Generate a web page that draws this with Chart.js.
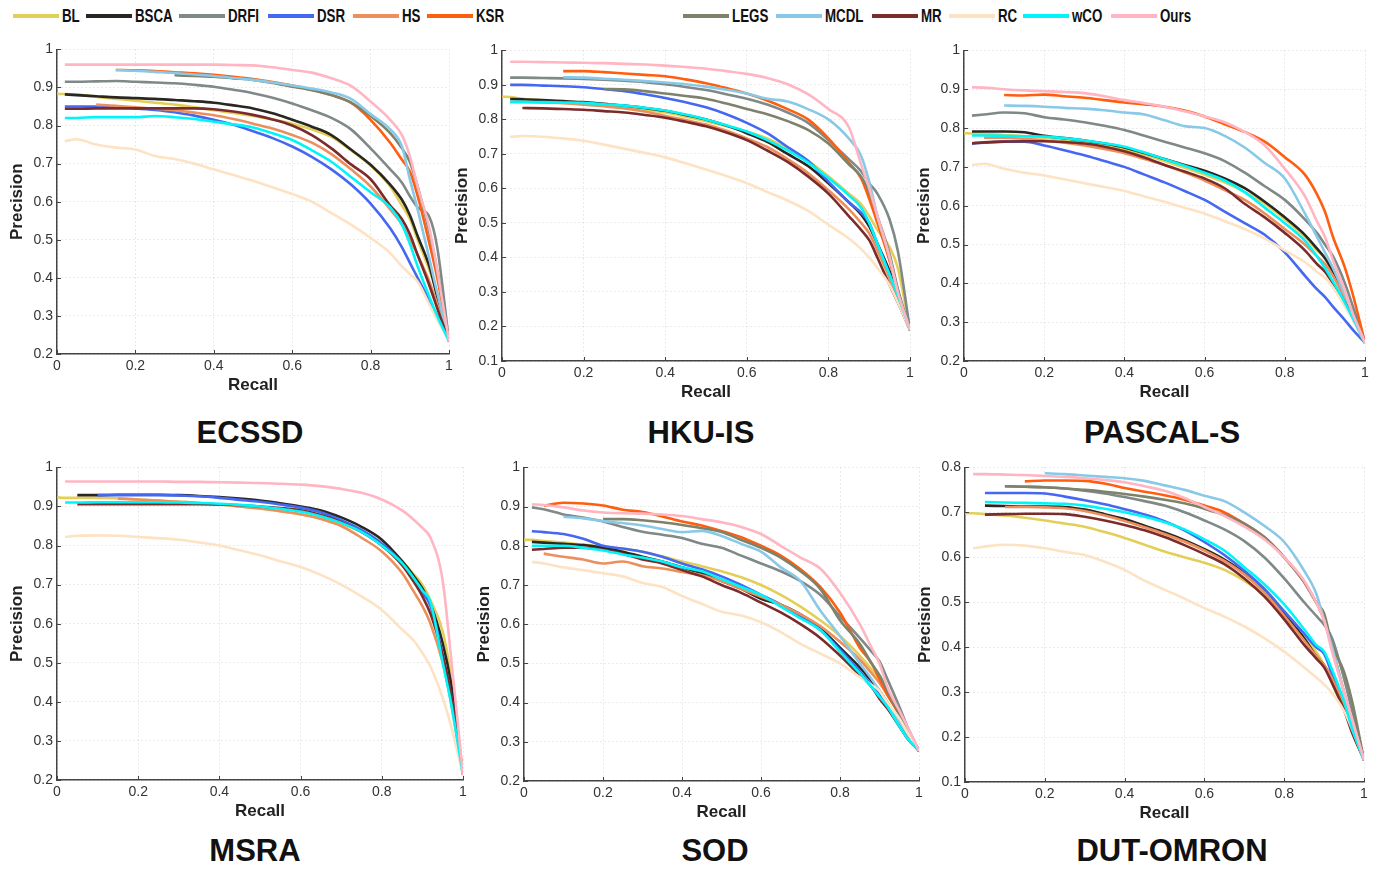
<!DOCTYPE html>
<html>
<head>
<meta charset="utf-8">
<title>PR curves</title>
<script src="https://cdn.jsdelivr.net/npm/chart.js@4.4.1/dist/chart.umd.min.js"></script>
<style>
  body { margin: 0; background: #fff; width: 1377px; height: 871px; position: relative; overflow: hidden;
         font-family: "Liberation Sans", Arial, sans-serif; }
  .box { position: absolute; }
  .legline { position: absolute; height: 4px; top: 14px; }
  .legtext { position: absolute; top: 6px; font: bold 18px "Liberation Sans", Arial, sans-serif;
             line-height: 20px; color: #111; transform: scaleX(0.74); transform-origin: 0 50%; white-space: nowrap; }
  .title { position: absolute; font: bold 31px "Liberation Sans", Arial, sans-serif; color: #111;
           transform: translate(-50%, -50%); white-space: nowrap; }
</style>
</head>
<body>
<div id="legend"></div>
<script>
// methods, in legend order
const methods = ['BL', 'BSCA', 'DRFI', 'DSR', 'HS', 'KSR', 'LEGS', 'MCDL', 'MR', 'RC', 'wCO', 'Ours'];

// recall sampling points shared by all curves
const recall = [0, 0.02, 0.05, 0.1, 0.15, 0.2, 0.25, 0.3, 0.35, 0.4, 0.45, 0.5, 0.55, 0.6, 0.65, 0.7, 0.75, 0.8, 0.85, 0.88, 0.9, 0.92, 0.95, 0.97, 1];

// precision per method (same order as methods), null = curve not drawn there
const ecssdPrecision = [
  [0.883,0.883,0.882,0.875,0.870,0.865,0.860,0.855,0.848,0.840,0.833,0.825,0.816,0.805,0.790,0.770,0.735,0.695,0.640,0.590,0.555,0.500,0.420,0.360,0.234],
  [null,0.882,0.880,0.877,0.874,0.872,0.870,0.867,0.864,0.860,0.853,0.845,0.832,0.815,0.797,0.775,0.737,0.697,0.645,0.605,0.565,0.510,0.430,0.350,0.234],
  [null,0.915,0.915,0.916,0.917,0.915,0.913,0.911,0.907,0.902,0.894,0.885,0.873,0.858,0.840,0.820,0.790,0.740,0.685,0.650,0.615,0.585,0.560,0.480,0.234],
  [null,0.850,0.850,0.850,0.848,0.845,0.841,0.835,0.826,0.815,0.802,0.785,0.767,0.745,0.718,0.685,0.645,0.595,0.530,0.480,0.440,0.400,0.340,0.300,0.234],
  [null,null,null,0.855,0.852,0.848,0.844,0.840,0.834,0.827,0.817,0.805,0.792,0.775,0.755,0.725,0.685,0.640,0.580,0.540,0.500,0.460,0.390,0.330,0.234],
  [null,null,null,null,0.946,0.945,0.943,0.940,0.937,0.933,0.928,0.922,0.914,0.905,0.894,0.880,0.860,0.815,0.755,0.710,0.680,0.615,0.490,0.400,0.234],
  [null,null,null,null,null,null,null,0.932,0.930,0.928,0.924,0.920,0.912,0.902,0.893,0.880,0.860,0.825,0.780,0.740,0.705,0.640,0.520,0.420,0.234],
  [null,null,null,null,0.946,0.944,0.941,0.938,0.934,0.930,0.925,0.920,0.913,0.905,0.897,0.887,0.870,0.830,0.790,0.745,0.660,0.580,0.450,0.360,0.234],
  [null,0.844,0.844,0.845,0.845,0.845,0.845,0.845,0.845,0.843,0.837,0.828,0.816,0.800,0.775,0.740,0.698,0.659,0.590,0.554,0.515,0.460,0.380,0.320,0.234],
  [null,0.759,0.764,0.750,0.742,0.737,0.720,0.712,0.700,0.685,0.670,0.655,0.638,0.620,0.600,0.570,0.540,0.505,0.465,0.430,0.410,0.390,0.330,0.290,0.234],
  [null,0.820,0.820,0.822,0.822,0.822,0.825,0.822,0.817,0.810,0.803,0.795,0.780,0.762,0.735,0.705,0.665,0.625,0.585,0.540,0.490,0.430,0.350,0.300,0.234],
  [null,0.960,0.960,0.960,0.960,0.960,0.960,0.960,0.960,0.960,0.959,0.958,0.953,0.946,0.939,0.924,0.904,0.863,0.815,0.775,0.720,0.640,0.530,0.420,0.234]
];

const hkuisPrecision = [
  [0.866,0.865,0.860,0.855,0.850,0.845,0.840,0.835,0.828,0.820,0.808,0.795,0.780,0.765,0.745,0.715,0.680,0.635,0.585,0.555,0.520,0.480,0.430,0.370,0.19],
  [null,0.859,0.858,0.856,0.853,0.850,0.845,0.840,0.833,0.825,0.813,0.800,0.782,0.760,0.735,0.700,0.665,0.615,0.560,0.525,0.490,0.440,0.360,0.290,0.19],
  [null,0.921,0.921,0.920,0.919,0.917,0.915,0.912,0.908,0.902,0.894,0.885,0.873,0.860,0.843,0.820,0.790,0.740,0.685,0.650,0.615,0.585,0.510,0.420,0.19],
  [null,0.900,0.900,0.898,0.896,0.893,0.888,0.882,0.873,0.862,0.850,0.835,0.815,0.790,0.760,0.720,0.680,0.620,0.560,0.530,0.500,0.440,0.350,0.290,0.19],
  [null,0.850,0.850,0.849,0.847,0.843,0.838,0.832,0.823,0.810,0.798,0.785,0.767,0.745,0.720,0.685,0.645,0.595,0.540,0.500,0.470,0.420,0.340,0.280,0.19],
  [null,null,null,null,0.940,0.940,0.937,0.933,0.929,0.925,0.916,0.905,0.891,0.875,0.855,0.830,0.800,0.745,0.675,0.630,0.570,0.500,0.390,0.300,0.19],
  [null,null,null,null,null,null,0.888,0.887,0.882,0.875,0.868,0.860,0.846,0.830,0.815,0.795,0.770,0.730,0.670,0.635,0.590,0.520,0.410,0.310,0.19],
  [null,null,null,null,0.922,0.921,0.918,0.915,0.911,0.907,0.902,0.895,0.886,0.875,0.860,0.852,0.830,0.800,0.745,0.695,0.620,0.520,0.400,0.300,0.19],
  [null,null,0.833,0.832,0.830,0.828,0.824,0.820,0.813,0.805,0.793,0.780,0.762,0.740,0.710,0.677,0.635,0.585,0.520,0.480,0.450,0.400,0.320,0.270,0.19],
  [null,0.749,0.752,0.750,0.745,0.738,0.727,0.715,0.703,0.690,0.673,0.655,0.636,0.615,0.590,0.565,0.535,0.495,0.455,0.425,0.400,0.370,0.320,0.270,0.19],
  [null,0.851,0.851,0.850,0.849,0.848,0.844,0.840,0.834,0.826,0.814,0.800,0.783,0.765,0.740,0.710,0.675,0.630,0.580,0.545,0.500,0.440,0.350,0.290,0.19],
  [null,0.967,0.967,0.966,0.965,0.964,0.963,0.961,0.959,0.956,0.952,0.947,0.940,0.932,0.920,0.902,0.873,0.830,0.778,0.670,0.600,0.520,0.400,0.300,0.19]
];

const pascalPrecision = [
  [0.787,0.786,0.785,0.782,0.779,0.775,0.769,0.762,0.754,0.745,0.731,0.715,0.698,0.680,0.660,0.635,0.605,0.565,0.520,0.485,0.465,0.430,0.370,0.320,0.247],
  [null,0.791,0.791,0.791,0.789,0.780,0.774,0.768,0.760,0.750,0.736,0.720,0.705,0.690,0.670,0.645,0.610,0.570,0.525,0.490,0.465,0.430,0.370,0.320,0.247],
  [null,0.832,0.835,0.840,0.838,0.828,0.822,0.815,0.806,0.795,0.780,0.765,0.750,0.735,0.715,0.685,0.650,0.615,0.565,0.530,0.500,0.470,0.400,0.340,0.247],
  [null,0.760,0.762,0.765,0.765,0.755,0.743,0.730,0.715,0.700,0.680,0.660,0.638,0.615,0.585,0.555,0.525,0.480,0.420,0.385,0.365,0.340,0.305,0.280,0.247],
  [null,null,0.775,0.775,0.772,0.768,0.762,0.755,0.746,0.735,0.720,0.705,0.686,0.665,0.640,0.615,0.580,0.540,0.500,0.470,0.450,0.420,0.360,0.310,0.247],
  [null,null,null,0.885,0.884,0.886,0.882,0.878,0.872,0.866,0.861,0.855,0.845,0.830,0.810,0.790,0.765,0.725,0.680,0.630,0.585,0.520,0.440,0.370,0.247],
  [null,null,null,null,null,null,null,null,null,null,null,null,null,null,null,null,null,null,null,null,null,null,null,null,null],
  [null,null,null,0.858,0.857,0.855,0.852,0.850,0.846,0.840,0.835,0.820,0.805,0.800,0.780,0.750,0.710,0.670,0.580,0.520,0.480,0.440,0.370,0.320,0.247],
  [null,0.761,0.763,0.765,0.766,0.766,0.764,0.760,0.752,0.740,0.724,0.705,0.688,0.670,0.645,0.605,0.570,0.530,0.485,0.450,0.430,0.400,0.350,0.310,0.247],
  [null,0.705,0.708,0.695,0.685,0.678,0.668,0.658,0.648,0.638,0.624,0.610,0.595,0.580,0.560,0.540,0.515,0.485,0.455,0.430,0.415,0.390,0.340,0.305,0.247],
  [null,0.781,0.781,0.780,0.779,0.778,0.774,0.768,0.761,0.752,0.737,0.720,0.703,0.685,0.665,0.635,0.595,0.555,0.510,0.470,0.440,0.405,0.350,0.310,0.247],
  [null,0.905,0.904,0.900,0.897,0.895,0.893,0.890,0.882,0.872,0.864,0.855,0.843,0.830,0.815,0.790,0.755,0.695,0.625,0.560,0.520,0.460,0.380,0.320,0.247]
];

const msraPrecision = [
  [0.923,0.922,0.922,0.922,0.921,0.918,0.915,0.912,0.909,0.905,0.900,0.895,0.888,0.880,0.870,0.855,0.835,0.805,0.760,0.725,0.700,0.660,0.580,0.470,0.213],
  [null,null,0.929,0.929,0.930,0.930,0.930,0.929,0.927,0.924,0.920,0.915,0.908,0.900,0.890,0.872,0.848,0.815,0.760,0.720,0.690,0.650,0.550,0.450,0.213],
  [null,null,null,null,null,null,null,null,null,null,null,null,null,null,null,null,null,null,null,null,null,null,null,null,null],
  [null,null,null,0.929,0.929,0.929,0.929,0.928,0.926,0.922,0.917,0.912,0.905,0.897,0.885,0.865,0.840,0.805,0.755,0.710,0.680,0.645,0.520,0.420,0.213],
  [null,null,null,null,0.920,0.918,0.915,0.912,0.909,0.905,0.900,0.895,0.888,0.880,0.868,0.850,0.820,0.785,0.730,0.680,0.645,0.600,0.500,0.400,0.213],
  [null,null,null,null,null,null,null,null,null,null,null,null,null,null,null,null,null,null,null,null,null,null,null,null,null],
  [null,null,null,null,null,null,null,null,null,null,null,null,null,null,null,null,null,null,null,null,null,null,null,null,null],
  [null,null,null,null,null,null,null,null,null,null,null,null,null,null,null,null,null,null,null,null,null,null,null,null,null],
  [null,null,0.906,0.906,0.906,0.906,0.906,0.906,0.906,0.905,0.903,0.900,0.896,0.890,0.878,0.860,0.835,0.800,0.750,0.705,0.670,0.625,0.520,0.420,0.213],
  [null,0.822,0.825,0.826,0.825,0.822,0.819,0.815,0.808,0.800,0.788,0.775,0.760,0.745,0.725,0.700,0.670,0.635,0.585,0.555,0.525,0.490,0.410,0.340,0.213],
  [null,0.910,0.910,0.911,0.911,0.911,0.911,0.910,0.909,0.907,0.904,0.900,0.894,0.887,0.875,0.858,0.835,0.800,0.755,0.715,0.685,0.655,0.500,0.400,0.213],
  [null,0.964,0.964,0.964,0.964,0.964,0.964,0.963,0.963,0.962,0.961,0.960,0.958,0.956,0.952,0.945,0.935,0.918,0.890,0.865,0.845,0.820,0.710,0.520,0.213]
];

const sodPrecision = [
  [0.815,0.815,0.812,0.808,0.803,0.798,0.792,0.785,0.773,0.760,0.748,0.735,0.720,0.700,0.675,0.645,0.610,0.570,0.520,0.485,0.460,0.430,0.370,0.330,0.277],
  [null,0.810,0.808,0.805,0.802,0.795,0.785,0.772,0.760,0.745,0.730,0.710,0.690,0.665,0.650,0.625,0.590,0.540,0.490,0.455,0.430,0.400,0.350,0.315,0.277],
  [null,0.898,0.893,0.880,0.872,0.862,0.848,0.836,0.828,0.820,0.805,0.795,0.775,0.755,0.735,0.710,0.675,0.620,0.565,0.530,0.505,0.460,0.390,0.340,0.277],
  [null,0.837,0.835,0.830,0.818,0.800,0.793,0.785,0.772,0.755,0.740,0.722,0.700,0.675,0.650,0.620,0.585,0.535,0.480,0.445,0.420,0.390,0.340,0.310,0.277],
  [null,null,0.780,0.772,0.765,0.755,0.760,0.748,0.742,0.733,0.725,0.710,0.690,0.670,0.650,0.625,0.595,0.555,0.510,0.475,0.450,0.420,0.370,0.330,0.277],
  [null,null,0.902,0.910,0.908,0.903,0.892,0.886,0.875,0.862,0.852,0.838,0.822,0.800,0.775,0.740,0.695,0.630,0.540,0.500,0.460,0.420,0.370,0.330,0.277],
  [null,null,null,null,null,0.868,0.868,0.865,0.860,0.853,0.845,0.835,0.815,0.795,0.770,0.735,0.690,0.610,0.550,0.500,0.470,0.430,0.370,0.330,0.277],
  [null,null,null,0.874,0.870,0.863,0.858,0.852,0.843,0.835,0.838,0.825,0.805,0.785,0.745,0.710,0.635,0.570,0.500,0.460,0.430,0.400,0.350,0.320,0.277],
  [null,0.790,0.792,0.795,0.795,0.790,0.780,0.765,0.755,0.738,0.722,0.700,0.680,0.655,0.630,0.600,0.565,0.520,0.470,0.440,0.410,0.385,0.340,0.310,0.277],
  [null,0.759,0.755,0.745,0.738,0.730,0.722,0.705,0.695,0.672,0.652,0.632,0.622,0.605,0.580,0.550,0.525,0.500,0.465,0.445,0.430,0.400,0.360,0.325,0.277],
  [null,0.800,0.800,0.800,0.795,0.788,0.778,0.770,0.760,0.745,0.735,0.715,0.695,0.675,0.645,0.615,0.585,0.530,0.475,0.440,0.415,0.390,0.340,0.310,0.277],
  [null,0.906,0.904,0.898,0.890,0.885,0.883,0.882,0.880,0.876,0.868,0.860,0.848,0.830,0.800,0.770,0.742,0.680,0.600,0.540,0.500,0.440,0.380,0.340,0.277]
];

const dutPrecision = [
  [0.698,0.698,0.696,0.693,0.688,0.682,0.675,0.668,0.656,0.643,0.628,0.613,0.600,0.588,0.572,0.548,0.515,0.470,0.420,0.390,0.360,0.320,0.260,0.220,0.149],
  [null,null,0.715,0.714,0.713,0.713,0.712,0.706,0.696,0.685,0.670,0.655,0.638,0.618,0.595,0.565,0.525,0.473,0.420,0.380,0.360,0.330,0.270,0.220,0.149],
  [null,null,null,0.758,0.757,0.756,0.753,0.748,0.742,0.734,0.725,0.715,0.700,0.682,0.662,0.636,0.600,0.553,0.500,0.470,0.450,0.420,0.330,0.260,0.149],
  [null,null,0.743,0.743,0.743,0.742,0.735,0.727,0.718,0.707,0.695,0.680,0.660,0.634,0.605,0.570,0.530,0.480,0.430,0.400,0.385,0.340,0.270,0.220,0.149],
  [null,null,null,0.712,0.712,0.711,0.709,0.703,0.693,0.681,0.667,0.652,0.635,0.615,0.592,0.562,0.522,0.470,0.415,0.380,0.360,0.330,0.270,0.220,0.149],
  [null,null,null,null,0.769,0.771,0.771,0.770,0.764,0.754,0.746,0.738,0.728,0.715,0.700,0.675,0.645,0.600,0.545,0.500,0.460,0.400,0.300,0.240,0.149],
  [null,null,null,0.758,0.757,0.756,0.753,0.750,0.746,0.741,0.735,0.728,0.720,0.708,0.694,0.675,0.645,0.600,0.545,0.500,0.475,0.405,0.345,0.280,0.149],
  [null,null,null,null,null,0.787,0.785,0.782,0.779,0.776,0.770,0.760,0.750,0.737,0.725,0.700,0.670,0.634,0.570,0.520,0.460,0.400,0.300,0.240,0.149],
  [null,null,0.695,0.696,0.697,0.697,0.696,0.690,0.682,0.672,0.660,0.645,0.627,0.607,0.585,0.553,0.513,0.462,0.405,0.375,0.355,0.320,0.260,0.210,0.149],
  [null,0.620,0.624,0.628,0.626,0.620,0.612,0.605,0.590,0.572,0.548,0.528,0.508,0.487,0.468,0.446,0.420,0.390,0.355,0.333,0.317,0.298,0.258,0.218,0.149],
  [null,null,0.723,0.722,0.721,0.720,0.719,0.715,0.708,0.700,0.690,0.678,0.662,0.640,0.615,0.578,0.540,0.495,0.440,0.405,0.390,0.350,0.280,0.220,0.149],
  [null,0.785,0.785,0.784,0.783,0.781,0.779,0.776,0.772,0.767,0.758,0.748,0.732,0.712,0.692,0.668,0.640,0.600,0.548,0.500,0.460,0.390,0.300,0.240,0.149]
];

const precisionTicks = [0.1, 0.2, 0.3, 0.4, 0.5, 0.6, 0.7, 0.8, 0.9, 1];
const recallTicks = [0, 0.2, 0.4, 0.6, 0.8, 1];

// styles
const colors = ['#e3cf57', '#2a2622', '#7f8987', '#4468f2', '#ec8f5c', '#ff5e0e',
                '#7f826a', '#88c9e8', '#7c2b2b', '#fde2c4', '#00f5f8', '#ffb5c2'];

const panels = [
  { name: 'ECSSD',     data: ecssdPrecision,  ymin: 0.2, ymax: 1,   L: 57,  R: 449,  T: 47,  B: 354, tx: 250,  ty: 433 },
  { name: 'HKU-IS',    data: hkuisPrecision,  ymin: 0.1, ymax: 1,   L: 502, R: 910,  T: 48,  B: 361, tx: 701,  ty: 433 },
  { name: 'PASCAL-S',  data: pascalPrecision, ymin: 0.2, ymax: 1,   L: 964, R: 1365, T: 48,  B: 361, tx: 1162, ty: 433 },
  { name: 'MSRA',      data: msraPrecision,   ymin: 0.2, ymax: 1,   L: 57,  R: 463,  T: 465, B: 780, tx: 255,  ty: 851 },
  { name: 'SOD',       data: sodPrecision,    ymin: 0.2, ymax: 1,   L: 524, R: 919,  T: 465, B: 781, tx: 715,  ty: 851 },
  { name: 'DUT-OMRON', data: dutPrecision,    ymin: 0.1, ymax: 0.8, L: 965, R: 1364, T: 465, B: 782, tx: 1172, ty: 851 }
];

// legend across the top
const legendLine = [13, 86, 179, 268, 353, 427, 683, 776, 872, 949, 1023, 1111];
const legend = document.getElementById('legend');
methods.forEach((m, i) => {
  const ln = document.createElement('div');
  ln.className = 'legline';
  ln.style.left = legendLine[i] + 'px';
  ln.style.width = '46px';
  ln.style.background = colors[i];
  legend.appendChild(ln);
  const tx = document.createElement('div');
  tx.className = 'legtext';
  tx.style.left = (legendLine[i] + 49) + 'px';
  tx.textContent = m;
  legend.appendChild(tx);
});

Chart.defaults.font.family = '"Liberation Sans", Arial, sans-serif';
Chart.defaults.color = '#333';

// small inward tick marks like the original figure
const innerTicks = {
  id: 'innerTicks',
  afterDraw(chart) {
    const { ctx, scales: { x, y } } = chart;
    ctx.save();
    ctx.strokeStyle = '#444';
    ctx.lineWidth = 1;
    ctx.beginPath();
    x.ticks.forEach(t => {
      const px = Math.round(x.getPixelForValue(t.value)) + 0.5;
      ctx.moveTo(px, y.bottom);
      ctx.lineTo(px, y.bottom - 4);
    });
    y.ticks.forEach(t => {
      const py = Math.round(y.getPixelForValue(t.value)) + 0.5;
      ctx.moveTo(x.left, py);
      ctx.lineTo(x.left + 4, py);
    });
    ctx.stroke();
    ctx.restore();
  }
};

const fmt = v => String(+v.toFixed(1));

panels.forEach(p => {
  const padTop = 10, padRight = 8, yW = 50, xH = 42;
  const box = document.createElement('div');
  box.className = 'box';
  box.style.left = (p.L - yW) + 'px';
  box.style.top = (p.T - padTop) + 'px';
  box.style.width = (p.R - p.L + yW + padRight) + 'px';
  box.style.height = (p.B - p.T + padTop + xH) + 'px';
  const cv = document.createElement('canvas');
  box.appendChild(cv);
  document.body.appendChild(box);

  const title = document.createElement('div');
  title.className = 'title';
  title.style.left = p.tx + 'px';
  title.style.top = p.ty + 'px';
  title.textContent = p.name;
  document.body.appendChild(title);

  const datasets = methods.map((m, i) => ({
    label: m,
    data: recall.map((r, k) => ({ x: r, y: p.data[i][k] })).filter(d => d.y !== null),
    borderColor: colors[i],
    backgroundColor: colors[i],
    borderWidth: 2.6,
    pointRadius: 0,
    fill: false,
    cubicInterpolationMode: 'monotone',
    order: methods.length - i
  }));

  new Chart(cv, {
    type: 'line',
    data: { datasets },
    options: {
      responsive: true,
      maintainAspectRatio: false,
      animation: false,
      layout: { padding: { top: padTop, right: padRight, left: 0, bottom: 0 } },
      plugins: { legend: { display: false }, tooltip: { enabled: false } },
      scales: {
        x: {
          type: 'linear', min: 0, max: 1,
          afterBuildTicks: s => { s.ticks = recallTicks.map(v => ({ value: v })); },
          afterFit: s => { s.height = xH; },
          ticks: { callback: fmt, font: { size: 14 }, padding: 4, color: '#333', maxRotation: 0 },
          grid: { color: '#d6d6d6', lineWidth: 1, drawTicks: false },
          border: { display: true, color: '#444', width: 1.5, dash: [1, 3] },
          title: { display: true, text: 'Recall', font: { size: 17, weight: 'bold' }, color: '#222', padding: 0 }
        },
        y: {
          type: 'linear', min: p.ymin, max: p.ymax,
          afterBuildTicks: s => { s.ticks = precisionTicks.filter(v => v >= p.ymin - 1e-9 && v <= p.ymax + 1e-9).map(v => ({ value: v })); },
          afterFit: s => { s.width = yW; },
          ticks: { callback: fmt, font: { size: 14 }, padding: 4, color: '#333' },
          grid: { color: '#d6d6d6', lineWidth: 1, drawTicks: false },
          border: { display: true, color: '#444', width: 1.5, dash: [1, 3] },
          title: { display: true, text: 'Precision', font: { size: 17, weight: 'bold' }, color: '#222', padding: 0 }
        }
      }
    },
    plugins: [innerTicks]
  });
});
</script>
</body>
</html>
